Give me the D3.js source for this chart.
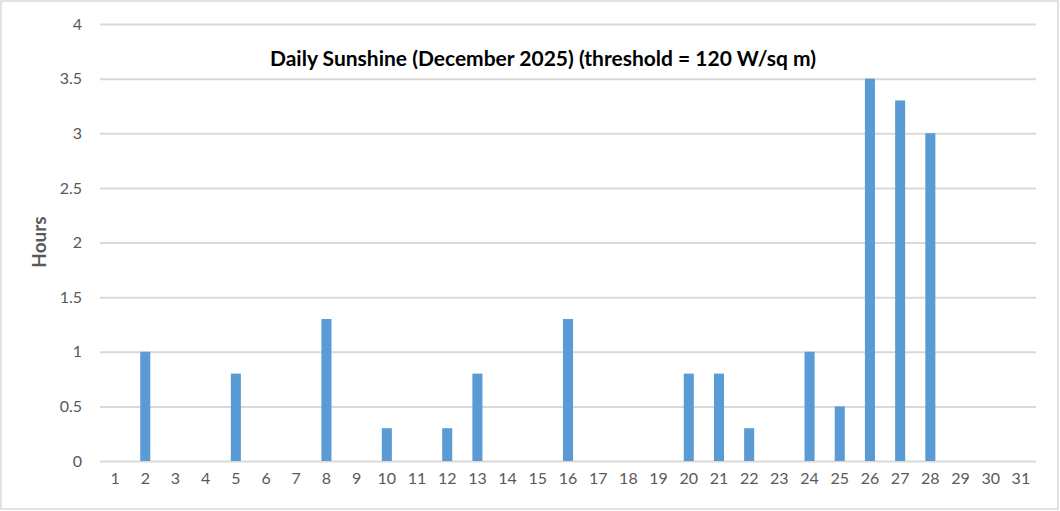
<!DOCTYPE html>
<html><head><meta charset="utf-8">
<script src="https://cdn.jsdelivr.net/npm/d3@7"></script>
<style>body{margin:0;background:#fff}svg{display:block}</style>
</head><body>
<svg id="c" width="1060" height="511"></svg>
<script>
const days = d3.range(1, 32).map(String);
const hours = [0,1,0,0,0.8,0,0,1.3,0,0.3,0,0.3,0.8,0,0,1.3,0,0,0,0.8,0.8,0.3,0,1,0.5,3.5,3.3,3.0,0,0,0];
const yTicks = [0,0.5,1,1.5,2,2.5,3,3.5,4];
const title = "Daily Sunshine (December 2025) (threshold = 120 W/sq m)";
const yTitle = "Hours";

const svg = d3.select("#c");
const font = "Lato, 'Open Sans', sans-serif";
svg.append("rect").attr("x",1).attr("y",1).attr("width",1057).attr("height",508)
  .attr("fill","#fff").attr("stroke","#d9d9d9").attr("stroke-width",1.5);

const m = {l:100, r:1036, t:24, b:461};
const x = d3.scaleBand().domain(days).range([m.l, m.r]).paddingInner(0.667).paddingOuter(0.333);
const y = d3.scaleLinear().domain([0,4]).range([m.b, m.t]);

const ga = svg.append("g").attr("transform",`translate(${m.l},0)`)
  .call(d3.axisLeft(y).tickValues(yTicks).tickSize(-(m.r-m.l)).tickFormat(d3.format("~g")).tickPadding(18));
ga.select(".domain").remove();
ga.selectAll("line").attr("stroke","#d9d9d9").attr("stroke-width",2);
ga.selectAll("text").attr("fill","#595959").style("font-family",font).style("font-size","16px");

svg.append("g").selectAll("rect").data(days).join("rect")
  .attr("x", d => x(d)).attr("width", x.bandwidth())
  .attr("y", (d,i) => y(hours[i])).attr("height", (d,i) => y(0) - y(hours[i]))
  .attr("fill","#5b9bd5");

const xs = d3.scaleBand().domain(days).range([m.l, m.r]);
const gx = svg.append("g").attr("transform",`translate(0,${m.b})`)
  .call(d3.axisBottom(xs).tickSize(0).tickPadding(12));
gx.select(".domain").remove();
gx.selectAll("text").attr("fill","#595959").style("font-family",font).style("font-size","16px");

svg.append("text").attr("x",543).attr("y",66).attr("text-anchor","middle")
  .style("font-family",font).style("font-size","21px").style("font-weight","bold").attr("fill","#000").text(title);
svg.append("text").attr("transform","translate(46,242) rotate(-90)").attr("text-anchor","middle")
  .style("font-family",font).style("font-size","19px").style("font-weight","bold").attr("fill","#595959").text(yTitle);
</script>
</body></html>
